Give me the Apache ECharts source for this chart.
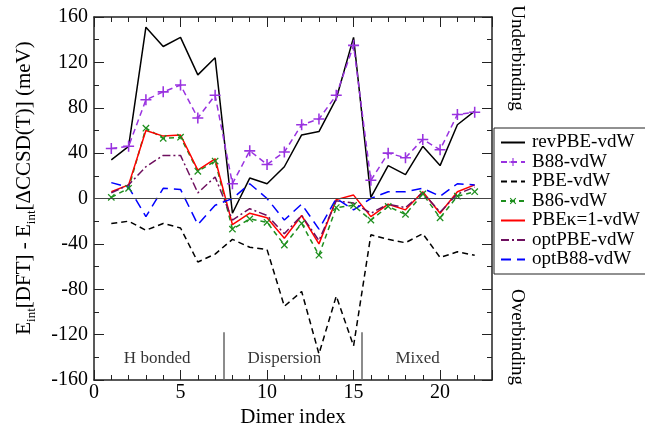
<!DOCTYPE html>
<html>
<head>
<meta charset="utf-8">
<script src="https://cdn.jsdelivr.net/npm/echarts@6/dist/echarts.min.js"></script>
<style>html,body{margin:0;padding:0;background:#fff}#c{width:645px;height:427px}</style>
</head>
<body>
<div id="c"></div>
<script>
// Data (x = dimer index 1..22)
var dimers = [1,2,3,4,5,6,7,8,9,10,11,12,13,14,15,16,17,18,19,20,21,22];
var revPBE = [34, 46, 151, 134, 142, 109, 124, -13, 18, 13, 28, 56, 59, 88, 142, 1, 29, 21, 46, 29, 65, 77];
var B88    = [44, 46, 87, 94, 100, 71, 91, 13, 42, 30, 41, 65, 70, 91, 135, 16, 40, 36, 52, 43, 74, 76];
var PBE    = [-22, -20, -28, -22, -26, -56, -49, -36, -43, -45, -95, -82, -137, -86, -130, -32, -36, -39, -31, -52, -47, -50];
var B86    = [1, 9, 62, 53, 54, 24, 33, -27, -18, -21, -41, -22, -50, -8, -6, -19, -7, -14, 4, -17, 2, 6];
var PBEk1  = [6, 12, 60, 55, 56, 25, 35, -23, -13, -17, -35, -15, -40, -1, 3, -16, -5, -10, 6, -13, 6, 12];
var optPBE = [5, 12, 28, 38, 38, 5, 19, -19, -9, -15, -31, -15, -37, -2, -4, -13, -5, -8, 5, -12, 4, 10];
var optB88 = [14, 10, -16, 9, 8, -23, -6, 0, 13, 0, -19, -5, -27, 0, -10, 0, 6, 6, 9, 2, 13, 12];
var seriesNames = ['revPBE-vdW','B88-vdW','PBE-vdW','B86-vdW','PBE\u03ba=1-vdW','optPBE-vdW','optB88-vdW'];
var separators = [7.5, 15.5];
var separatorTop = -118;
var regionNames = ['H bonded','Dispersion','Mixed'];
var regionX = [3.65, 11, 18.7];
var regionY = -141;

function pts(arr){ return arr.map(function(v,i){ return [dimers[i], v]; }); }
var FONT = '"Liberation Serif","DejaVu Serif",serif';
var plus = 'path://M4.3,0H5.7V4.3H10V5.7H5.7V10H4.3V5.7H0V4.3H4.3Z';

function lineSeries(name, data, color, type, symbol, size, rot){
  return {
    name: name, type: 'line', data: pts(data),
    symbol: symbol || 'none', symbolSize: size || 0, symbolRotate: rot || 0,
    showSymbol: !!symbol,
    lineStyle: {color: color, width: 1.5, type: type},
    itemStyle: {color: symbol ? color : 'rgba(0,0,0,0)'},
    emphasis: {disabled: true}, animation: false, z: 3
  };
}

var series = [
  lineSeries(seriesNames[0], revPBE, '#000000', 'solid'),
  lineSeries(seriesNames[1], B88, '#9932e0', [6,4], plus, 11, 0),
  lineSeries(seriesNames[2], PBE, '#000000', [6,4]),
  lineSeries(seriesNames[3], B86, '#1e8f1e', [5,4], plus, 9, 45),
  lineSeries(seriesNames[4], PBEk1, '#ff0000', 'solid'),
  lineSeries(seriesNames[5], optPBE, '#6e0f5e', [8,3,2,3]),
  lineSeries(seriesNames[6], optB88, '#0000ff', [10,6])
];
series[0].markLine = {
  silent: true, symbol: 'none', animation: false, label: {show: false},
  data: [
    [{coord:[0,0], lineStyle:{color:'#444', width:1, type:'solid'}}, {coord:[23,0]}],
    [{coord:[separators[0],-160], lineStyle:{color:'#666', width:1.5, type:'solid'}}, {coord:[separators[0],separatorTop]}],
    [{coord:[separators[1],-160], lineStyle:{color:'#666', width:1.5, type:'solid'}}, {coord:[separators[1],separatorTop]}]
  ]
};
series.push({
  type: 'scatter', symbolSize: 0, silent: true, animation: false,
  data: regionNames.map(function(n,i){ return {name:n, value:[regionX[i], regionY]}; }),
  label: {show: true, position: 'inside', formatter: '{b}', color: '#000', fontFamily: FONT, fontSize: 17}
});

var legendData = seriesNames.map(function(n, i){
  var hasSym = (i === 1 || i === 3);
  return hasSym ? {name: n} : {name: n, itemStyle: {color: 'rgba(0,0,0,0)', borderColor: 'rgba(0,0,0,0)', opacity: 0}};
});

var chart = echarts.init(document.getElementById('c'), null, {renderer: 'canvas'});
chart.setOption({
  backgroundColor: '#fff',
  animation: false,
  grid: {left: 94, right: 153, top: 17, bottom: 47, containLabel: false, outerBoundsMode: 'none'},
  xAxis: [
    {type: 'value', min: 0, max: 23, interval: 5, position: 'bottom',
     axisLine: {onZero: false, lineStyle: {color: '#222', width: 1.5}},
     axisTick: {inside: true, length: 10, lineStyle: {color: '#222', width: 1}},
     minorTick: {show: true, splitNumber: 5, length: 5, lineStyle: {color: '#222', width: 1}},
     splitLine: {show: false},
     axisLabel: {color: '#000', fontFamily: FONT, fontSize: 20, margin: 3, showMaxLabel: false},
     name: 'Dimer index', nameLocation: 'middle', nameGap: 37, nameMoveOverlap: false,
     nameTextStyle: {color: '#000', fontFamily: FONT, fontSize: 21, verticalAlign: 'middle'}},
    {type: 'value', min: 0, max: 23, interval: 5, position: 'top',
     axisLine: {onZero: false, lineStyle: {color: '#222', width: 1.5}},
     axisTick: {inside: true, length: 10, lineStyle: {color: '#222', width: 1}},
     minorTick: {show: true, splitNumber: 5, length: 5, lineStyle: {color: '#222', width: 1}},
     splitLine: {show: false}, axisLabel: {show: false}}
  ],
  yAxis: [
    {type: 'value', min: -160, max: 160, interval: 40, position: 'left',
     axisLine: {show: true, onZero: false, lineStyle: {color: '#222', width: 1.5}},
     axisTick: {show: true, inside: true, length: 10, lineStyle: {color: '#222', width: 1}},
     minorTick: {show: true, splitNumber: 2, length: 5, lineStyle: {color: '#222', width: 1}},
     splitLine: {show: false},
     axisLabel: {color: '#000', fontFamily: FONT, fontSize: 20, margin: 6}},
    {type: 'value', min: -160, max: 160, interval: 40, position: 'right',
     axisLine: {show: true, onZero: false, lineStyle: {color: '#222', width: 1.5}},
     axisTick: {show: true, inside: true, length: 10, lineStyle: {color: '#222', width: 1}},
     minorTick: {show: true, splitNumber: 2, length: 5, lineStyle: {color: '#222', width: 1}},
     splitLine: {show: false}, axisLabel: {show: false}}
  ],
  legend: {
    data: legendData, orient: 'vertical', left: 494, top: 128,
    itemWidth: 24, itemHeight: 10, itemGap: 0.5,
    padding: [5, 30, 5, 6],
    borderColor: '#222', borderWidth: 1, backgroundColor: '#fff',
    textStyle: {color: '#000', fontFamily: FONT, fontSize: 19, lineHeight: 18, padding: [0,0,0,2]},
    selectedMode: false
  },
  graphic: [
    {type: 'text', x: 24, y: 188, rotation: Math.PI/2, silent: true,
     style: {
       text: '{m|E}{s|int}{m|[DFT] - E}{s|int}{m|[\u0394CCSD(T)] (meV)}',
       align: 'center', verticalAlign: 'middle', fill: '#000',
       rich: {
         m: {fontFamily: FONT, fontSize: 21, lineHeight: 28, fill: '#000', verticalAlign: 'middle'},
         s: {fontFamily: FONT, fontSize: 13, lineHeight: 28, fill: '#000', verticalAlign: 'bottom'}
       }
     }},
    {type: 'text', x: 517, y: 58, rotation: -Math.PI/2, silent: true,
     style: {text: 'Underbinding', fontFamily: FONT, fontSize: 19, fill: '#000', align: 'center', verticalAlign: 'middle'}},
    {type: 'text', x: 517, y: 337, rotation: -Math.PI/2, silent: true,
     style: {text: 'Overbinding', fontFamily: FONT, fontSize: 19, fill: '#000', align: 'center', verticalAlign: 'middle'}}
  ],
  series: series
});
</script>
</body>
</html>
